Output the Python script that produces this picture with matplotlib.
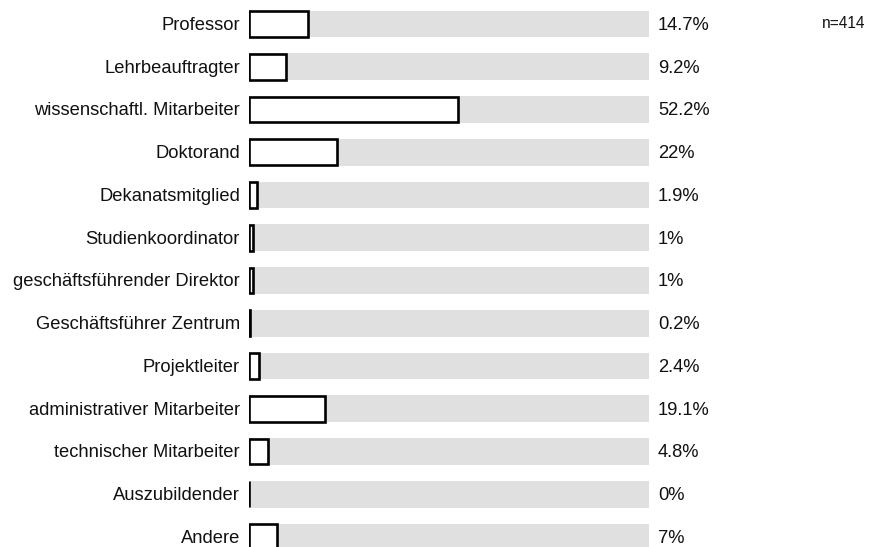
import numpy as np
import matplotlib.pyplot as plt

plt.rcParams['font.family'] = ['Liberation Sans', 'DejaVu Sans']

categories = ['Professor', 'Lehrbeauftragter', 'wissenschaftl. Mitarbeiter', 'Doktorand',
              'Dekanatsmitglied', 'Studienkoordinator', 'geschäftsführender Direktor',
              'Geschäftsführer Zentrum', 'Projektleiter', 'administrativer Mitarbeiter',
              'technischer Mitarbeiter', 'Auszubildender', 'Andere']
shares = [14.7, 9.2, 52.2, 22, 1.9, 1, 1, 0.2, 2.4, 19.1, 4.8, 0, 7]
share_labels = ['14.7%', '9.2%', '52.2%', '22%', '1.9%', '1%', '1%', '0.2%', '2.4%',
                '19.1%', '4.8%', '0%', '7%']
n_total = 'n=414'

W, H = 883, 547
fig = plt.figure(figsize=(W / 100, H / 100), dpi=100)
ax = fig.add_axes([249 / W, 0, 400 / W, 1])

y = np.arange(len(categories))
# grey track for 100%, outlined bar for the actual share
ax.barh(y, [100] * len(y), height=0.63, color='#e0e0e0', linewidth=0)
ax.barh(y, shares, height=0.6, color='white', edgecolor='black', linewidth=1.9)

ax.set_xlim(0, 100)
ax.set_ylim(12.234, -0.561)
ax.axis('off')

for yi, cat, lab in zip(y, categories, share_labels):
    ax.annotate(cat, (0, yi), xytext=(-6.5, -1), textcoords='offset points',
                ha='right', va='center', fontsize=13.2, color='#111111', clip_on=False)
    ax.annotate(lab, (100, yi), xytext=(6.5, -1), textcoords='offset points',
                ha='left', va='center', fontsize=13.2, color='#111111', clip_on=False)

fig.text(822 / W, 1 - 24 / H, n_total, ha='left', va='center', fontsize=11.2,
         color='#111111')

fig.savefig('out.png', dpi=100)
